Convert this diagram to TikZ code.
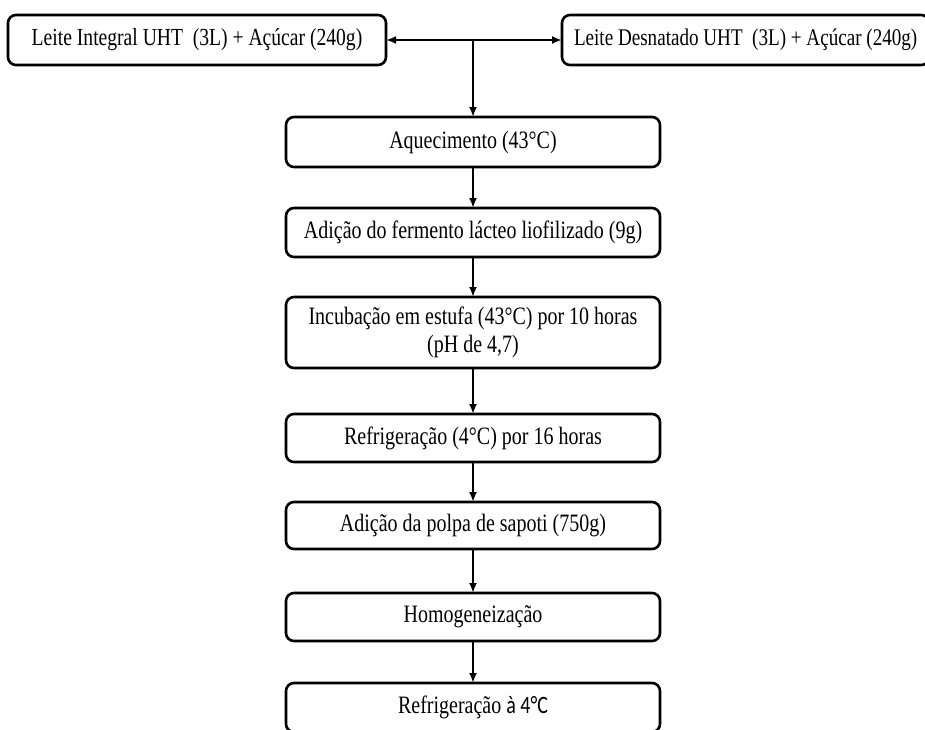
\documentclass[tikz,border=0pt]{standalone}
\usepackage{fontspec}
\setmainfont{Liberation Serif}
\newfontfamily\calfont{Carlito}
\usepackage{graphicx}
\usetikzlibrary{positioning}
\usetikzlibrary{arrows.meta}
\newcommand{\tall}[1]{\scalebox{1}[1.25]{#1}}
\tikzset{node distance=41pt,
>={Latex[length=10pt,width=8pt]},
etapa/.style={
draw,
line width=2.6pt,
outer sep=0pt,
rounded corners=8pt,
minimum width=374pt,
minimum height=49pt,
align=center,
font=\fontsize{20}{28}\selectfont},
leite/.style={
etapa,
minimum width=378pt,
minimum height=50pt,
font=\fontsize{19.6}{28}\selectfont},
every edge/.style={
draw,
->,
line width=2.1pt}}

\begin{document}
\begin{tikzpicture}[x=1pt,y=-1pt]
\useasboundingbox (0,0) rectangle (925,729);
\node[leite] (integral) at (197,40) {\tall{Leite Integral UHT\ \ (3L) + Açúcar (240g)}};
\node[leite, minimum width=0pt, inner xsep=12pt, font=\fontsize{19.1}{28}\selectfont, right=176pt of integral] (desnatado) {\tall{Leite Desnatado UHT\ \ (3L) + Açúcar (240g)}};
\coordinate (split) at (473,40);
\node[etapa, minimum height=50pt, below=77pt of split] (aquec) {\tall{Aquecimento (43°C)}};
\node[etapa, below=41pt of aquec] (fermento) {\tall{Adição do fermento lácteo liofilizado (9g)}};
\node[etapa, minimum height=71pt, below=40pt of fermento] (incub) {\tall{Incubação em estufa (43°C) por 10 horas}\\ \tall{(pH de 4,7)}};
\node[etapa, minimum height=48pt, below=46pt of incub] (refrig) {\tall{Refrigeração (4°C) por 16 horas}};
\node[etapa, minimum height=47pt, below=40pt of refrig] (polpa) {\tall{Adição da polpa de sapoti (750g)}};
\node[etapa, minimum height=48pt, below=44pt of polpa] (homog) {\tall{Homogeneização}};
\node[etapa, below=42pt of homog] (final) {\tall{Refrigeração {\calfont à 4°C}}};
\draw (split) edge (integral);
\draw (split) edge (desnatado);
\draw (split) edge (aquec);
\draw (aquec) edge (fermento);
\draw (fermento) edge (incub);
\draw (incub) edge (refrig);
\draw (refrig) edge (polpa);
\draw (polpa) edge (homog);
\draw (homog) edge (final);
\end{tikzpicture}
\end{document}
